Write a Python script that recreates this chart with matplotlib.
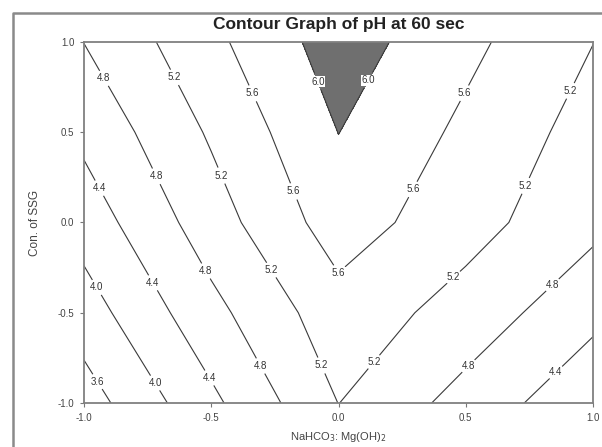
import numpy as np
import matplotlib.pyplot as plt
from matplotlib.lines import Line2D

plt.rcParams['font.family'] = ['Liberation Sans', 'DejaVu Sans']

# grid (pH values at grid nodes)
x_vals = [-1.0, -0.5, 0.0, 0.5, 1.0]   # NaHCO3: Mg(OH)2
y_vals = [-1.0, -0.5, 0.0, 0.5, 1.0]   # Con. of SSG
ph = [
    [3.41, 4.31, 5.205, 4.652, 4.104],   # y = -1.0
    [3.81, 4.68, 5.44, 5.04, 4.507],     # y = -0.5
    [4.175, 5.015, 5.80, 5.35, 4.907],   # y = 0.0
    [4.50, 5.25, 6.005, 5.515, 5.04],    # y = 0.5
    [4.805, 5.50, 6.20, 5.70, 5.205],    # y = 1.0
]
levels = [3.6, 4.0, 4.4, 4.8, 5.2, 5.6, 6.0]
ticks = [-1.0, -0.5, 0.0, 0.5, 1.0]

# where the contour labels sit
label_spots = [
    (-0.92, 0.80), (-0.65, 0.80), (-0.33, 0.72), (-0.10, 0.77), (0.14, 0.77),
    (0.49, 0.72), (0.91, 0.73),
    (-0.94, 0.19), (-0.71, 0.26), (-0.46, 0.26), (-0.18, 0.17), (0.29, 0.185),
    (0.74, 0.20),
    (-0.95, -0.36), (-0.73, -0.335), (-0.51, -0.26), (-0.26, -0.26), (0.01, -0.30),
    (0.44, -0.285), (0.83, -0.33),
    (-0.945, -0.88), (-0.71, -0.88), (-0.50, -0.855), (-0.30, -0.79), (-0.08, -0.80),
    (0.137, -0.77), (0.50, -0.78), (0.84, -0.81),
]

X, Y = np.meshgrid(x_vals, y_vals)
Z = np.array(ph)

fig = plt.figure(figsize=(6.02, 4.47), dpi=100)
ax = fig.add_axes([84 / 602, 1 - 403 / 447, 509 / 602, 361 / 447])

# shaded region above pH 6.0
ax.contourf(X, Y, Z, levels=[6.0, 7.0], colors=['#6f6f6f'])
cs = ax.contour(X, Y, Z, levels=levels, colors='#3a3a3a', linewidths=0.8)
txts = ax.clabel(cs, fmt='%.1f', fontsize=7, inline=True, inline_spacing=2,
                 manual=label_spots)
for t in txts:
    t.set_rotation(0)
    t.set_color('#333333')
    t.set_bbox(dict(facecolor='white', edgecolor='none', pad=0.3))

ax.set_xlim(-1, 1)
ax.set_ylim(-1, 1)
ax.set_xticks(ticks)
ax.set_yticks(ticks)
ax.set_xticklabels(['%.1f' % v for v in ticks])
ax.set_yticklabels(['%.1f' % v for v in ticks])
ax.tick_params(direction='out', length=3, width=0.8, colors='#777777',
               labelcolor='#444444', labelsize=7, pad=4)
for s in ax.spines.values():
    s.set_color('#808080')
    s.set_linewidth(1.3)

ax.set_title('Contour Graph of pH at 60 sec', fontsize=12.5, fontweight='bold',
             color='#222222', pad=9)
ax.set_xlabel(r'NaHCO$_3$: Mg(OH)$_2$', fontsize=8, color='#444444', labelpad=5)
ax.set_ylabel('Con. of SSG', fontsize=8.5, color='#444444', labelpad=12)

# outer frame of the graph page
fig.add_artist(Line2D([13 / 602, 13 / 602, 1.0], [0.0, 1 - 13 / 447, 1 - 13 / 447],
                      transform=fig.transFigure, color='#8a8a8a', linewidth=1.8))

plt.savefig('out.png', dpi=100)
